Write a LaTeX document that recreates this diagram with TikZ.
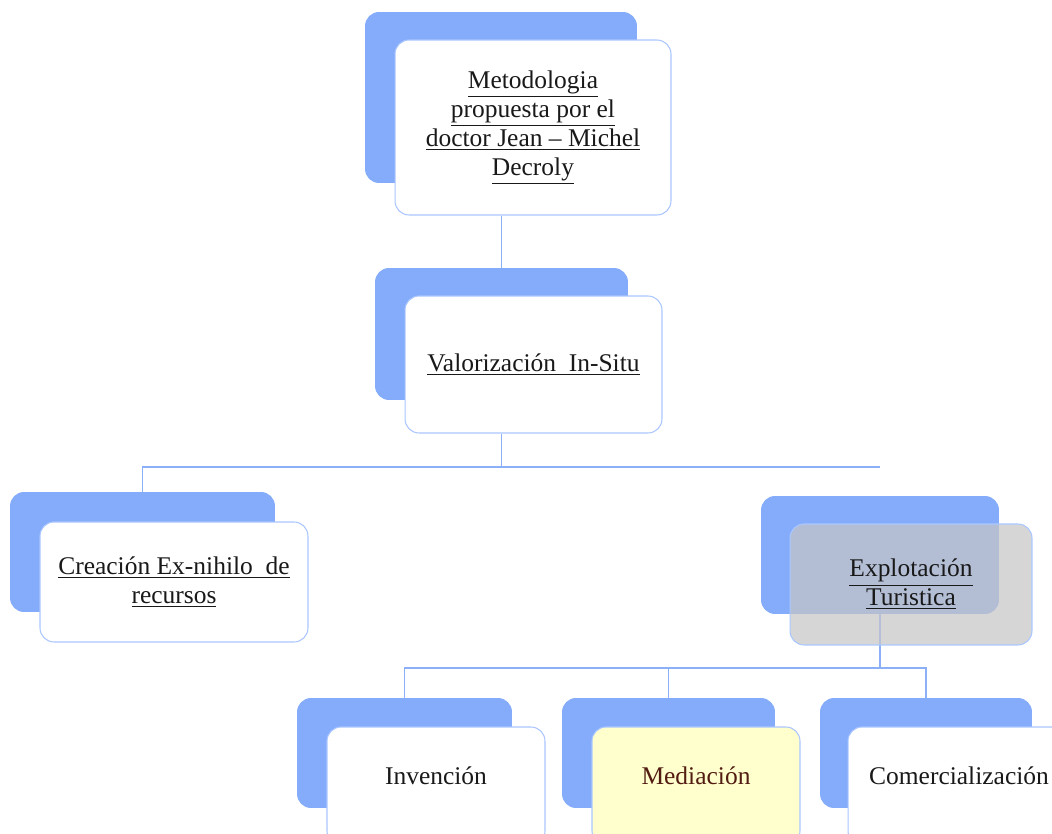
\documentclass[tikz,border=0pt]{standalone}
\usepackage{fontspec}
\setmainfont{Liberation Serif}
\usepackage{xcolor}
\usetikzlibrary{positioning}

\definecolor{backblue}{RGB}{132,172,250}
\definecolor{edgeblue}{RGB}{170,198,255}
\definecolor{lineblue}{RGB}{140,176,248}
\definecolor{overgray}{RGB}{198,198,200}
\definecolor{paleyellow}{RGB}{255,255,206}
\definecolor{darkbrown}{RGB}{82,28,18}

\tikzset{
  backbox/.style={rounded corners=0.28cm, fill=backblue, draw=none},
  frontbox/.style={rounded corners=0.28cm, fill=white, draw=edgeblue, line width=0.6pt, align=center, text=black!90, font=\fontsize{14.5}{16.5}\selectfont},
  link/.style={draw=lineblue, line width=1pt}
}

\begin{document}
\begin{tikzpicture}[x=0.02cm, y=-0.02cm]
\useasboundingbox (0,0) rectangle (1052,834);
\node[backbox, minimum width=5.44cm, minimum height=3.42cm] (TopBack) at (501,97.5) {};
\node[backbox, minimum width=5.06cm, minimum height=2.64cm] (ValBack) at (501.5,334) {};
\node[backbox, minimum width=5.30cm, minimum height=2.40cm] (CreaBack) at (142.5,552) {};
\node[backbox, minimum width=4.76cm, minimum height=2.36cm] (ExplBack) at (880,555) {};
\node[backbox, minimum width=4.30cm, minimum height=2.20cm] (InvBack) at (404.5,753) {};
\node[backbox, minimum width=4.26cm, minimum height=2.20cm] (MedBack) at (668.5,753) {};
\node[backbox, minimum width=4.24cm, minimum height=2.20cm] (ComBack) at (926,753) {};
\node[frontbox, minimum width=5.52cm, minimum height=3.50cm] (Top) at (533,127.5) {\underline{Metodologia}\\ \underline{propuesta por el}\\ \underline{doctor Jean -- Michel}\\ \underline{Decroly}};
\node[frontbox, minimum width=5.14cm, minimum height=2.74cm] (Val) at (533.5,364.5) {\underline{Valorización\ \ In-Situ}};
\coordinate (Split) at (501.5,467);
\coordinate (SplitLow) at (880,668);
\draw[link] (ValBack.north |- Top.south) -- (ValBack.north);
\draw[link] (Split |- Val.south) -- (Split);
\draw[link] (CreaBack.north) |- (ExplBack.north |- Split);
\draw[link] (ExplBack.south) -- (SplitLow);
\draw[link] (InvBack.north) |- (ComBack.north |- SplitLow) -- (ComBack.north);
\draw[link] (MedBack.north) -- (MedBack.north |- SplitLow);
\node[frontbox, minimum width=5.36cm, minimum height=2.40cm] (Crea) at (174,582) {\underline{Creación Ex-nihilo\ \ de}\\ \underline{recursos}};
\node[frontbox, fill=overgray, fill opacity=0.72, text opacity=1, minimum width=4.84cm, minimum height=2.42cm] (Expl) at (911,584.5) {\underline{Explotación}\\ \underline{Turistica}};
\node[frontbox, minimum width=4.36cm, minimum height=2.36cm, text depth=0.42cm] (Inv) at (436,786) {Invención};
\node[frontbox, fill=paleyellow, text=darkbrown, minimum width=4.16cm, minimum height=2.36cm, text depth=0.42cm] (Med) at (696,786) {Mediación};
\node[frontbox, minimum width=4.44cm, minimum height=2.36cm, text depth=0.42cm] (Com) at (959,786) {Comercialización};
\end{tikzpicture}
\end{document}
